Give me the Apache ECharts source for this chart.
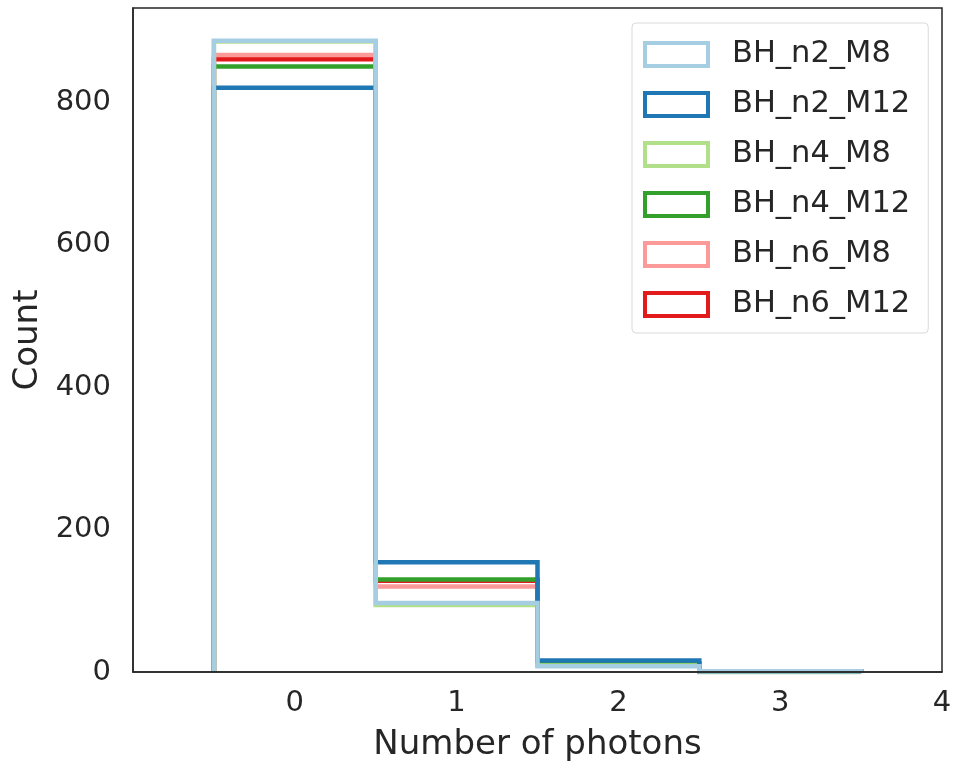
<!DOCTYPE html>
<html>
<head>
<meta charset="utf-8">
<title>Number of photons</title>
<script src="https://cdn.jsdelivr.net/npm/echarts@6/dist/echarts.min.js"></script>
<style>
  html, body { margin: 0; padding: 0; background: #fff; }
  #chart { width: 953px; height: 765px; }
</style>
</head>
<body>
<div id="chart"></div>
<script>
// 分箱中心（光子数）
const bins = [0, 1, 2, 3];

// 系列名称与颜色
const names = ['BH_n2_M8', 'BH_n2_M12', 'BH_n4_M8', 'BH_n4_M12', 'BH_n6_M8', 'BH_n6_M12'];
const colors = ['#a6cee3', '#1f78b4', '#b2df8a', '#33a02c', '#fb9a99', '#e31a1c'];

// 各系列在每个分箱中的计数
const n2M8 = [886, 97, 8, 1];
const n2M12 = [820, 154, 16, 1];
const n4M8 = [885, 94, 9, 0];
const n4M12 = [850, 130, 12, 0];
const n6M8 = [866, 120, 10, 0];
const n6M12 = [860, 128, 11, 1];
const counts = [n2M8, n2M12, n4M8, n4M12, n6M8, n6M12];

// 刻度
const xTicks = [0, 1, 2, 3, 4];
const yTicks = [0, 200, 400, 600, 800];

const textColor = '#262626';
const font = 'DejaVu Sans';

// 阶梯轮廓：每个分箱左右边缘
const stepPoints = (values) => {
  const pts = [[bins[0] - 0.5, 0]];
  values.forEach((v, i) => {
    pts.push([bins[i] - 0.5, v]);
    pts.push([bins[i] + 0.5, v]);
  });
  pts.push([bins[bins.length - 1] + 0.5, 0]);
  return pts;
};

const chart = echarts.init(document.getElementById('chart'));

chart.setOption({
  animation: false,
  grid: {
    left: 133,
    right: 11,
    top: 8,
    bottom: 93,
    containLabel: false,
    outerBoundsMode: 'none',
    show: true,
    borderColor: textColor,
    borderWidth: 1.5,
    z: 20
  },
  legend: {
    orient: 'vertical',
    left: 632,
    top: 23,
    icon: 'rect',
    itemWidth: 63,
    itemHeight: 23,
    itemGap: 19,
    padding: [16, 18, 13, 11],
    backgroundColor: '#fff',
    borderColor: '#d9d9d9',
    borderWidth: 1,
    borderRadius: 4,
    textStyle: {
      fontFamily: font,
      fontSize: 30.5,
      color: textColor,
      padding: [0, 0, 0, 19]
    },
    data: names.map((n, i) => ({
      name: n,
      itemStyle: { color: '#fff', borderColor: colors[i], borderWidth: 4 }
    }))
  },
  xAxis: {
    type: 'value',
    min: -1,
    max: 4,
    interval: 1,
    z: 20,
    name: 'Number of photons',
    nameLocation: 'middle',
    nameGap: 56,
    nameTextStyle: { fontFamily: font, fontSize: 34, color: textColor },
    axisLine: { show: true, onZero: false, lineStyle: { color: textColor, width: 1.5 } },
    axisTick: { show: false },
    splitLine: { show: false },
    axisLabel: {
      margin: 17,
      fontFamily: font,
      fontSize: 29,
      color: textColor,
      formatter: (v) => (xTicks.includes(v) ? String(v) : '')
    }
  },
  yAxis: {
    type: 'value',
    min: 0,
    max: 932,
    interval: 200,
    z: 20,
    name: 'Count',
    nameLocation: 'middle',
    nameGap: 85,
    nameTextStyle: { fontFamily: font, fontSize: 34, color: textColor },
    axisLine: { show: true, onZero: false, lineStyle: { color: textColor, width: 1.5 } },
    axisTick: { show: false },
    splitLine: { show: false },
    axisLabel: {
      margin: 22,
      fontFamily: font,
      fontSize: 29,
      color: textColor,
      formatter: (v) => (yTicks.includes(v) ? String(v) : '')
    }
  },
  // 第一个系列画在最上层
  series: names.map((n, i) => ({
    name: n,
    type: 'line',
    data: stepPoints(counts[i]),
    showSymbol: false,
    symbol: 'none',
    z: 2 + names.length - i,
    color: colors[i],
    lineStyle: { color: colors[i], width: 4.5, join: 'miter' },
    clip: true
  }))
});

window.addEventListener('resize', () => chart.resize());
</script>
</body>
</html>
